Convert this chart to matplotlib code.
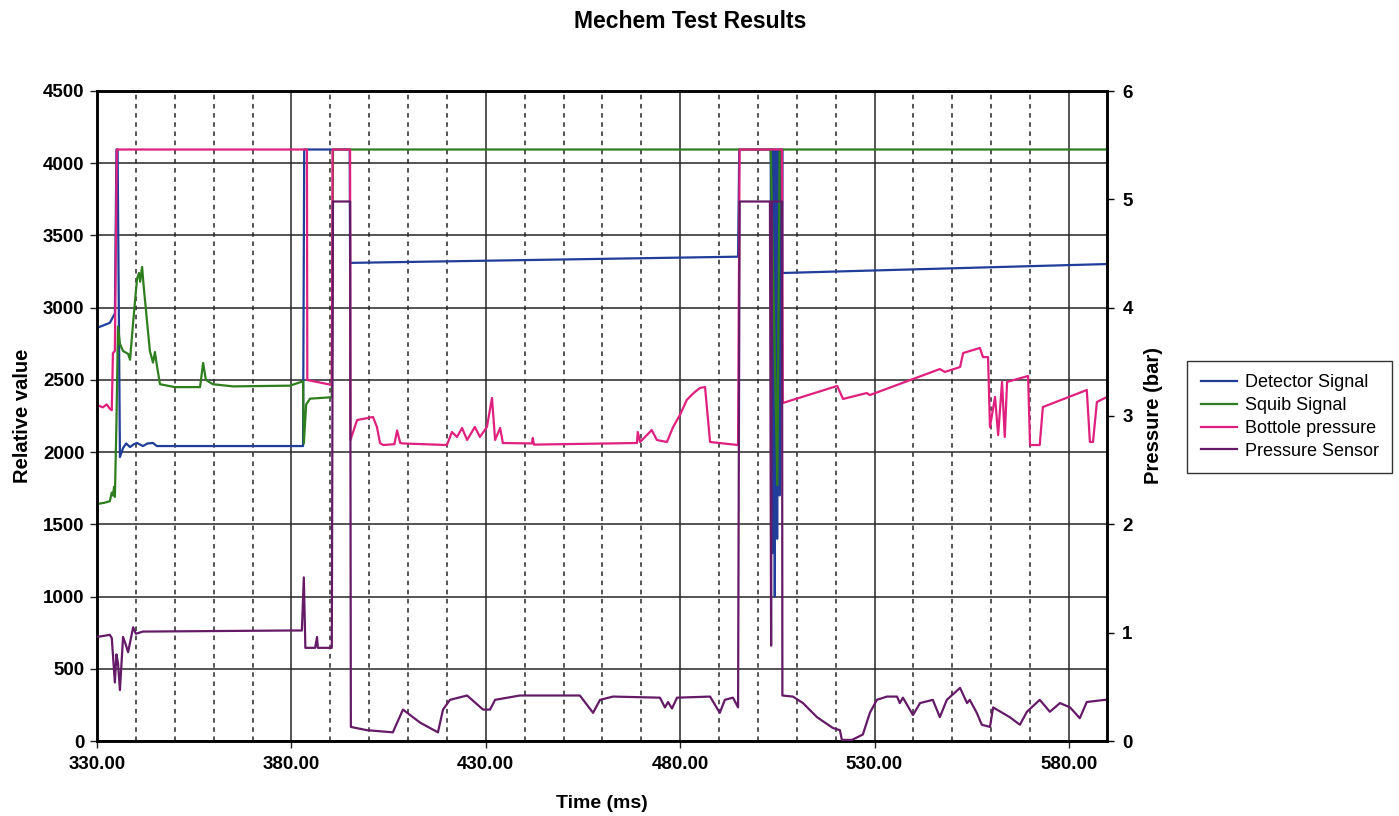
import numpy as np
import matplotlib
matplotlib.use("Agg")
import matplotlib.pyplot as plt
from matplotlib.lines import Line2D

plt.rcParams['font.family'] = ['Liberation Sans', 'DejaVu Sans']

# ---------------- data ----------------
det_t = [330.0, 333.3, 334.6, 335.0, 335.3, 335.9, 336.7, 337.5, 338.5, 339.5, 340.3, 341.8,
         343.0, 344.4, 345.4, 383.0, 383.3, 395.0, 395.1, 494.9, 495.2, 503.3,
         503.45, 503.6, 503.75, 503.9, 504.05, 504.2, 504.35, 504.5, 504.65, 504.8, 504.95,
         505.1, 505.25, 505.4, 505.55, 505.7, 505.85, 506.0, 506.15, 506.25,
         506.3, 589.8]
det_v = [2860, 2895, 2960, 4095, 4095, 1966, 2028, 2060, 2035, 2055, 2063, 2042,
         2060, 2063, 2042, 2042, 4095, 4095, 3310, 3353, 4095, 4095,
         1900, 4095, 1300, 4095, 2100, 4095, 1000, 4095, 1800, 4095, 1400,
         4095, 2300, 4095, 1700, 4095, 2600, 4095, 3200, 4095,
         3240, 3302]

squib_t = [330.0, 332.0, 333.3, 333.8, 334.1, 334.4, 334.6, 335.0, 335.4, 335.9, 336.7, 338.0,
           338.5, 339.3, 340.3, 340.8, 341.1, 341.6, 342.0, 343.6, 344.4, 344.9, 345.4, 346.2,
           350.0, 356.5, 357.3, 358.0, 359.8, 365.0, 379.6, 383.0, 383.2, 383.8, 384.8, 390.4,
           390.7, 503.3, 505.0, 505.6, 589.8]
squib_v = [1640, 1650, 1660, 1720, 1700, 1760, 1690, 2200, 2870, 2750, 2700, 2680,
           2640, 2900, 3200, 3240, 3180, 3282, 3150, 2700, 2620, 2693, 2600, 2470,
           2450, 2450, 2617, 2500, 2470, 2455, 2460, 2490, 2060, 2330, 2370, 2380,
           4095, 4095, 1772, 4095, 4095]

bottle_t = [330.0, 331.5, 332.5, 333.3, 333.8, 334.1, 334.6, 335.1, 384.0, 384.1, 390.4, 390.6,
            395.1, 395.2, 396.9, 401.0, 402.0, 402.8, 403.6, 406.5, 407.2, 408.0, 408.7, 420.0,
            421.3, 422.6, 423.9, 425.2, 427.2, 428.5, 430.3, 431.6, 432.4, 433.7, 434.4, 441.9,
            442.1, 442.4, 468.9, 469.1, 469.7, 472.7, 474.0, 476.6, 478.2, 480.0, 481.7, 483.5,
            485.1, 486.4, 487.7, 494.9, 495.3, 506.2, 506.4, 520.4, 521.9, 528.0, 528.8, 546.8,
            548.1, 552.0, 552.8, 557.1, 557.9, 559.2, 559.7, 561.0, 561.8, 562.8, 563.5, 564.1,
            569.5, 570.0, 572.5, 573.3, 584.6, 585.4, 586.2, 587.2, 589.3]
bottle_v = [2326, 2310, 2330, 2300, 2290, 2686, 2700, 4095, 4095, 2499, 2465, 4095,
            4095, 2084, 2222, 2243, 2174, 2063, 2049, 2055, 2150, 2063, 2060, 2049,
            2139, 2105, 2167, 2084, 2174, 2105, 2174, 2375, 2084, 2167, 2063, 2060,
            2098, 2052, 2063, 2139, 2070, 2153, 2084, 2070, 2174, 2260, 2361, 2410,
            2444, 2451, 2070, 2049, 4095, 4095, 2340, 2458, 2368, 2409, 2395, 2575,
            2555, 2589, 2686, 2721, 2658, 2658, 2174, 2382, 2118, 2486, 2105, 2486,
            2527, 2049, 2049, 2312, 2430, 2070, 2070, 2347, 2375]

sensor_t = [330.0, 333.3, 333.8, 334.6, 335.0, 335.4, 335.9, 336.7, 337.3, 338.0, 339.3, 340.0,
            341.8, 379.6, 382.7, 383.2, 383.6, 386.1, 386.6, 386.8, 390.4, 390.7, 395.1, 395.3,
            399.4, 406.1, 408.7, 413.1, 417.7, 419.0, 420.8, 425.2, 429.3, 431.1, 432.4, 438.8,
            454.2, 457.6, 459.4, 462.7, 474.8, 476.1, 476.9, 477.9, 479.2, 487.7, 490.2, 491.5,
            493.6, 494.9, 495.3, 503.1, 503.4, 503.6, 506.2, 506.3, 509.0, 511.6, 515.2, 519.3,
            521.1, 521.6, 524.2, 527.0, 528.8, 530.6, 533.2, 535.8, 536.5, 537.3, 539.9, 541.7,
            545.0, 546.8, 548.6, 552.0, 553.8, 554.5, 556.3, 557.6, 559.7, 560.5, 564.8, 567.4,
            569.2, 572.5, 575.1, 577.7, 580.3, 582.8, 584.6, 589.3]
sensor_v = [0.96, 0.98, 0.95, 0.54, 0.80, 0.72, 0.47, 0.96, 0.90, 0.82, 1.05, 0.99,
            1.01, 1.02, 1.02, 1.51, 0.86, 0.86, 0.96, 0.86, 0.86, 4.98, 4.98, 0.13,
            0.10, 0.08, 0.29, 0.17, 0.08, 0.29, 0.38, 0.42, 0.29, 0.29, 0.38, 0.42,
            0.42, 0.26, 0.38, 0.41, 0.40, 0.31, 0.36, 0.30, 0.40, 0.41, 0.26, 0.38,
            0.40, 0.31, 4.98, 4.98, 0.88, 4.98, 4.98, 0.42, 0.41, 0.35, 0.22, 0.12,
            0.10, 0.01, 0.01, 0.06, 0.26, 0.38, 0.41, 0.41, 0.35, 0.40, 0.24, 0.35,
            0.38, 0.22, 0.38, 0.49, 0.35, 0.38, 0.26, 0.15, 0.13, 0.31, 0.22, 0.15,
            0.27, 0.38, 0.27, 0.35, 0.31, 0.21, 0.36, 0.38]

series_names = ["Detector Signal", "Squib Signal", "Bottole pressure", "Pressure Sensor"]
series_colors = ["#1f3d99", "#2e7d1e", "#e0207e", "#651a68"]

x_major = [330, 380, 430, 480, 530, 580]
x_minor = [v for v in range(340, 590, 10) if v not in x_major]
y_left = [0, 500, 1000, 1500, 2000, 2500, 3000, 3500, 4000, 4500]
y_right = [0, 1, 2, 3, 4, 5, 6]

# ---------------- figure ----------------
fig = plt.figure(figsize=(13.99, 8.16), dpi=100)
ax = fig.add_axes([97/1399, 75/816, 1010/1399, 650/816])
ax2 = ax.twinx()

lw = 1.6
ax.plot(det_t, det_v, color=series_colors[0], lw=lw, zorder=3)
ax.plot(squib_t, squib_v, color=series_colors[1], lw=lw, zorder=3)
ax.plot(bottle_t, bottle_v, color=series_colors[2], lw=lw, zorder=4)
ax2.plot(sensor_t, sensor_v, color=series_colors[3], lw=lw, zorder=3)

ax.set_xlim(330, 589.8)
ax.set_ylim(0, 4500)
ax2.set_ylim(0, 6)

ax.set_xticks(x_major)
ax.set_xticks(x_minor, minor=True)
ax.set_xticklabels([f"{v:.2f}" for v in x_major])
ax.set_yticks(y_left)
ax2.set_yticks(y_right)

ax.grid(True, which='major', axis='both', color='#262626', lw=1.1, zorder=0)
ax.grid(True, which='minor', axis='x', color='#262626', lw=1.1, ls=(0, (3, 3)), zorder=0)
ax.set_axisbelow(True)

for lab in ax.get_xticklabels() + ax.get_yticklabels() + ax2.get_yticklabels():
    lab.set_fontsize(13.5)
    lab.set_fontweight('bold')
ax.tick_params(axis='both', which='major', direction='out', length=5, width=1, color='#222222', pad=4)
ax.tick_params(axis='x', which='major', pad=6)
ax.tick_params(axis='x', which='minor', length=0)
ax2.tick_params(axis='y', which='major', direction='out', length=5, width=1, pad=6)

for a in (ax, ax2):
    for s in a.spines.values():
        s.set_linewidth(1.8)
        s.set_color('black')

ax.set_xlabel("Time (ms)", fontsize=14, fontweight='bold', labelpad=16)
ax.set_ylabel("Relative value", fontsize=14.5, fontweight='bold', labelpad=8)
ax2.set_ylabel("Pressure (bar)", fontsize=14.5, fontweight='bold', labelpad=8)

fig.suptitle("Mechem Test Results", x=690/1399, y=1 - 22/816, va='center',
             fontsize=16.5, fontweight='bold')

handles = [Line2D([0], [0], color=c, lw=1.6) for c in series_colors]
leg = fig.legend(handles, series_names, loc='center left',
                 bbox_to_anchor=(1187/1399, 1 - 417/816), fontsize=13,
                 frameon=True, fancybox=False, edgecolor='black',
                 handlelength=2.0, handletextpad=0.45, labelspacing=0.32,
                 borderpad=0.75, borderaxespad=0)
leg.get_frame().set_linewidth(1.0)

fig.savefig("out.png", dpi=100, facecolor='white')
